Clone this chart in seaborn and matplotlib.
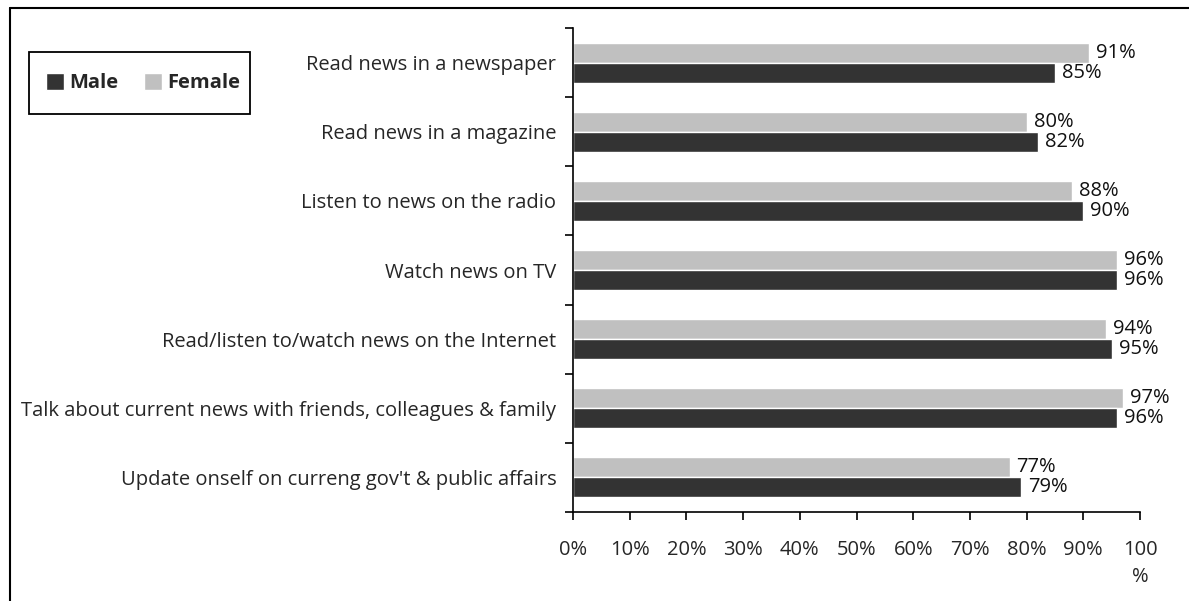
import matplotlib
matplotlib.use("Agg")
import matplotlib.pyplot as plt
from matplotlib.lines import Line2D
from matplotlib.patches import Patch, Rectangle
import seaborn as sns
import pandas as pd
import numpy as np

categories = [
    "Read news in a newspaper",
    "Read news in a magazine",
    "Listen to news on the radio",
    "Watch news on TV",
    "Read/listen to/watch news on the Internet",
    "Talk about current news with friends, colleagues & family",
    "Update onself on curreng gov't & public affairs",
]
female = [91, 80, 88, 96, 94, 97, 77]
male = [85, 82, 90, 96, 95, 96, 79]
xtick_values = [0, 10, 20, 30, 40, 50, 60, 70, 80, 90, 100]
xtick_labels = ["0%", "10%", "20%", "30%", "40%", "50%", "60%", "70%", "80%", "90%", "100\n%"]

sns.set_theme(style="white")
plt.rcParams['font.family'] = ['Open Sans', 'DejaVu Sans']

FS = 14.5

df = pd.DataFrame({
    "Activity": categories * 2,
    "Value": female + male,
    "Gender": ["Female"] * len(categories) + ["Male"] * len(categories),
})

colors = {"Male": "#333333", "Female": "#c0c0c0"}

W, H = 1189, 601
fig = plt.figure(figsize=(W / 100, H / 100), dpi=100)
ax = fig.add_axes([573 / W, 1 - 512 / H, (1140 - 573) / W, (512 - 28) / H])

sns.barplot(data=df, y="Activity", x="Value", hue="Gender", hue_order=["Female", "Male"],
            order=categories, palette=colors, width=0.58, orient="h", ax=ax,
            legend=False, saturation=1, errorbar=None)

for cont in ax.containers:
    ax.bar_label(cont, labels=[f"{int(round(v))}%" for v in cont.datavalues],
                 padding=5, fontsize=FS, color="#111111")

ax.set_xlim(0, 100)
ax.set_ylim(6.5, -0.5)
ax.set_xticks(xtick_values)
ax.set_xticklabels(xtick_labels, fontsize=FS, linespacing=1.5, va="top")
ax.set_yticks(range(len(categories)))
ax.set_yticklabels(categories, fontsize=FS)
ax.set_yticks(np.arange(-0.5, len(categories), 1.0), minor=True)
ax.tick_params(axis="y", which="major", length=0, pad=12)
ax.tick_params(axis="y", which="minor", length=6, width=1.2, color="black", direction="out", left=True)
ax.tick_params(axis="x", which="major", length=6, width=1.2, color="black", direction="out",
               bottom=True, pad=14)
ax.set_xlabel("")
ax.set_ylabel("")
for s in ["top", "right"]:
    ax.spines[s].set_visible(False)
for s in ["left", "bottom"]:
    ax.spines[s].set_color("black")
    ax.spines[s].set_linewidth(1.2)

# outer frame (left and top edges)
fig.add_artist(Line2D([10 / W, 10 / W], [0, 1 - 8 / H], transform=fig.transFigure,
                      color="black", lw=1.5))
fig.add_artist(Line2D([10 / W, 1], [1 - 8 / H, 1 - 8 / H], transform=fig.transFigure,
                      color="black", lw=1.5))

# legend box
fig.add_artist(Rectangle((29 / W, 1 - 114 / H), (250 - 29) / W, (114 - 52) / H,
                         transform=fig.transFigure, fill=False, edgecolor="black", lw=1.3))
handles = [Patch(facecolor=colors["Male"], label="Male"),
           Patch(facecolor=colors["Female"], label="Female")]
leg = fig.legend(handles=handles, loc="center", bbox_to_anchor=(143 / W, 1 - 83 / H),
                 ncol=2, frameon=False,
                 prop={"weight": "bold", "size": FS}, handlelength=0.9, handleheight=0.9,
                 handletextpad=0.25, columnspacing=1.3, borderpad=0, borderaxespad=0)

fig.savefig("out.png", dpi=100)
